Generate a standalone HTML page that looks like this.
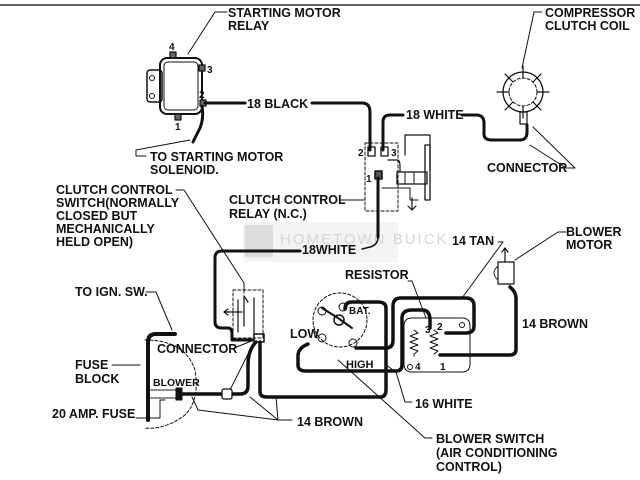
<!DOCTYPE html>
<html><head><meta charset="utf-8"><style>
html,body{margin:0;padding:0;background:#fff;}
svg{display:block}
text{font-family:"Liberation Sans",sans-serif;font-weight:bold;font-size:12.5px;fill:#111;}
</style></head><body>
<svg width="640" height="480" viewBox="0 0 640 480" xmlns="http://www.w3.org/2000/svg">
<rect width="640" height="480" fill="#fff"/>
<line x1="0" y1="5" x2="640" y2="5" stroke="#333" stroke-width="1.5"/>

<!-- watermark -->
<g opacity="0.35">
<rect x="243" y="222" width="155" height="40" fill="#ddd"/>
<rect x="245" y="225" width="28" height="32" fill="#999"/>
<text x="280" y="244" style="font-size:15px;font-weight:normal;fill:#888;letter-spacing:2px">HOMETOWN BUICK</text>
</g>

<g fill="none" stroke="#111" stroke-linecap="round" stroke-linejoin="round">
<!-- starting motor relay -->
<rect x="147" y="70" width="15" height="32" rx="3" stroke-width="1.5"/>
<circle cx="152" cy="78" r="2.5" stroke-width="1"/>
<circle cx="152" cy="96" r="2.5" stroke-width="1"/>
<rect x="160" y="58" width="42" height="56" rx="7" stroke-width="2"/>
<rect x="164" y="62" width="34" height="48" rx="4" stroke-width="1"/>
<rect x="170" y="52" width="6" height="6" stroke-width="1.2" fill="#666"/>
<rect x="199" y="65" width="6" height="6" stroke-width="1.2" fill="#666"/>
<rect x="200" y="100" width="6" height="6" stroke-width="1.2" fill="#666"/>
<rect x="175" y="114" width="6" height="6" stroke-width="1.2" fill="#666"/>
<polyline points="227,12 215,12 188,54" stroke-width="1"/>
<path d="M202 106 Q204 118 200 128 L193 142" stroke-width="3"/>
<polyline points="146,156 136,156 136,150 190,140" stroke-width="1"/>
<line x1="205" y1="103" x2="245" y2="103" stroke-width="3"/>
<path d="M312 103 H362 Q370 103 370 112 V150" stroke-width="3"/>
<path d="M403 115 H390 Q383 115 383 122 V150" stroke-width="3"/>
<path d="M462 115 H476 Q484 115 484 123 V134 Q484 140 492 140 H520 Q527 140 527 132 V125" stroke-width="3"/>
<!-- clutch relay -->
<rect x="365" y="143" width="33" height="68" stroke-width="1" stroke-dasharray="3,2"/>
<rect x="368" y="147" width="7" height="9" stroke-width="1.3"/>
<rect x="381" y="147" width="7" height="9" stroke-width="1.3"/>
<rect x="375" y="171" width="7" height="8" stroke-width="1.5" fill="#555"/>
<path d="M388 160 H397 Q400 160 400 166 V172" stroke-width="1.2"/>
<path d="M405 155 V135 H430 V170" stroke-width="1.2"/>
<rect x="397" y="172" width="30" height="12" stroke-width="1.3"/>
<line x1="405" y1="172" x2="405" y2="184" stroke-width="1"/>
<line x1="414" y1="172" x2="414" y2="184" stroke-width="1"/>
<rect x="425" y="145" width="5" height="55" stroke-width="1.3"/>
<path d="M382 188 H410 V200 H418" stroke-width="1"/>
<path d="M412 198 V210 M408 206 L412 210 L416 206" stroke-width="1.2"/>
<polyline points="340,200 365,200" stroke-width="1"/>
<path d="M378 178 V237" stroke-width="3"/>
<path d="M378 237 Q378 245 370 247 L362 249" stroke-width="1.5"/>
<path d="M300 251 H222 Q215 251 215 258 V322 Q215 328 222 328 H228 Q232 328 232 334 V340 H252" stroke-width="3"/>
<!-- clutch control switch -->
<rect x="233" y="290" width="30" height="48" stroke-width="1" stroke-dasharray="3,2"/>
<path d="M238 300 V332 M244 296 V326 M244 296 L248 302 M254 298 V336" stroke-width="1.2"/>
<path d="M242 312 H224 M228 309 L224 312 L228 315" stroke-width="1.2"/>
<polyline points="176,190 184,190 244,283 244,293" stroke-width="1"/>
<rect x="254" y="334" width="10" height="8" stroke-width="1.5"/>
<path d="M260 342 V392 Q260 397 267 397 H380 Q386 397 386 390 V308 Q386 302 378 302 H352 Q345 302 345 309" stroke-width="3.5"/>
<path d="M256 342 Q248 350 248 365 V386 Q248 394 240 394 H180" stroke-width="3.5"/>
<line x1="234" y1="348" x2="254" y2="340" stroke-width="1"/>
<line x1="254" y1="342" x2="230" y2="390" stroke-width="1"/>
<rect x="222" y="389" width="10" height="10" rx="2" stroke-width="1.3" fill="#fff"/>
<!-- fuse block -->
<path d="M148 420 V342 Q148 334 156 334 H175" stroke-width="4"/>
<polyline points="146,292 156,292 172,330" stroke-width="1"/>
<polyline points="112,365 140,365" stroke-width="1"/>
<path d="M145 340 Q185 340 195 370 Q200 400 185 415 Q165 430 145 428" stroke-width="1" stroke-dasharray="3,2"/>
<path d="M150 390 H178 M150 398 H178" stroke-width="1" stroke-dasharray="3,1"/>
<rect x="176" y="388" width="6" height="12" fill="#111" stroke-width="1"/>
<polyline points="136,418 160,418 160,400 165,400" stroke-width="1"/>
<polyline points="192,397 198,410 278,420 292,420" stroke-width="1"/>
<line x1="250" y1="397" x2="278" y2="420" stroke-width="1"/>
<line x1="276" y1="397" x2="278" y2="420" stroke-width="1"/>
<!-- blower switch -->
<circle cx="340" cy="320" r="27" stroke-width="1" stroke-dasharray="3,2"/>
<circle cx="339" cy="320" r="5" stroke-width="1.5"/>
<path d="M322 308 L338 318 L352 328" stroke-width="2"/>
<circle cx="322" cy="311" r="4" stroke-width="1"/>
<circle cx="343" cy="307" r="4" stroke-width="1"/>
<circle cx="322" cy="338" r="4" stroke-width="1"/>
<circle cx="353" cy="343" r="4" stroke-width="1"/>
<path d="M308 344 Q298 348 298 356 V365 Q298 371 306 371 H396 Q402 371 402 365 V318 Q402 310 412 310 H422 Q430 310 430 320 V328" stroke-width="3.5"/>
<path d="M356 348 H386 Q393 348 393 340 V306 Q393 298 401 298 H466 Q474 298 474 306 V326 Q474 333 466 333 H446" stroke-width="3.5"/>
<!-- resistor -->
<path d="M412 318 H462 Q470 318 470 326 V364 Q470 372 462 372 H412 Q404 372 404 364 V326 Q404 318 412 318 Z" stroke-width="1"/>
<path d="M414 330 l4 3 -8 3 8 3 -8 3 8 3 -8 3 8 3 -4 3 V356" stroke-width="1"/>
<path d="M434 330 l4 3 -8 3 8 3 -8 3 8 3 -8 3 8 3 -4 3" stroke-width="1"/>
<circle cx="462" cy="325" r="2.5" stroke-width="1"/>
<circle cx="410" cy="367" r="2.5" stroke-width="1"/>
<path d="M440 355 H510 Q516 355 516 349 V298 Q516 292 510 287" stroke-width="3.5"/>
<!-- blower motor -->
<path d="M498 262 H514 V284 H498 Z" stroke-width="1.2"/>
<path d="M498 266 Q490 273 498 280" stroke-width="1" stroke-dasharray="2,1"/>
<path d="M505 262 V248 M502 252 L505 248 L508 252" stroke-width="1.2"/>
<polyline points="566,232 558,232 515,260" stroke-width="1"/>
<polyline points="408,281 412,281 426,318" stroke-width="1"/>
<polyline points="498,242 503,242 462,298" stroke-width="1"/>
<polyline points="412,402 405,402 396,372 386,365" stroke-width="1"/>
<polyline points="432,438 425,438 338,360" stroke-width="1"/>
<!-- compressor clutch coil -->
<circle cx="523" cy="92" r="20" stroke-width="1.3"/>
<circle cx="523" cy="92" r="14" stroke-width="1" stroke-dasharray="3,2"/>
<g stroke-width="1.2">
<line x1="523" y1="66" x2="523" y2="78"/><line x1="523" y1="106" x2="523" y2="118"/>
<line x1="497" y1="92" x2="509" y2="92"/><line x1="537" y1="92" x2="549" y2="92"/>
<line x1="505" y1="74" x2="513" y2="82"/><line x1="533" y1="102" x2="541" y2="110"/>
<line x1="541" y1="74" x2="533" y2="82"/><line x1="505" y1="110" x2="513" y2="102"/>
</g>
<rect x="520" y="112" width="7" height="12" stroke-width="1.2"/>
<polyline points="542,12 534,12 522,68" stroke-width="1"/>
<polyline points="566,168 575,168 533,127" stroke-width="1"/>
<line x1="566" y1="168" x2="530" y2="145" stroke-width="1"/>
</g>

<text x="228" y="17">STARTING MOTOR</text>
<text x="228" y="30">RELAY</text>
<text x="169" y="50" style="font-size:10px">4</text>
<text x="207" y="73" style="font-size:10px">3</text>
<text x="199" y="98" style="font-size:10px">2</text>
<text x="175" y="130" style="font-size:10px">1</text>
<text x="150" y="161">TO STARTING MOTOR</text>
<text x="150" y="174">SOLENOID.</text>
<text x="247" y="108">18 BLACK</text>
<text x="406" y="119">18 WHITE</text>
<text x="545" y="17">COMPRESSOR</text>
<text x="545" y="30">CLUTCH COIL</text>
<text x="487" y="172">CONNECTOR</text>
<text x="358" y="156" style="font-size:10px">2</text>
<text x="391" y="156" style="font-size:10px">3</text>
<text x="366" y="182" style="font-size:10px">1</text>
<text x="229" y="204">CLUTCH CONTROL</text>
<text x="229" y="218">RELAY (N.C.)</text>
<text x="56" y="194">CLUTCH CONTROL</text>
<text x="56" y="207">SWITCH(NORMALLY</text>
<text x="56" y="220">CLOSED BUT</text>
<text x="56" y="233">MECHANICALLY</text>
<text x="56" y="246">HELD OPEN)</text>
<text x="302" y="254">18WHITE</text>
<text x="452" y="245">14 TAN</text>
<text x="566" y="236">BLOWER</text>
<text x="566" y="249">MOTOR</text>
<text x="345" y="279">RESISTOR</text>
<text x="522" y="328">14 BROWN</text>
<text x="75" y="296">TO IGN. SW.</text>
<text x="290" y="338">LOW</text>
<text x="349" y="314" style="font-size:10px">BAT.</text>
<text x="346" y="368" style="font-size:11px">HIGH</text>
<text x="157" y="353">CONNECTOR</text>
<text x="75" y="369">FUSE</text>
<text x="75" y="383">BLOCK</text>
<text x="153" y="386" style="font-size:10.5px">BLOWER</text>
<text x="52" y="418">20 AMP. FUSE</text>
<text x="297" y="426">14 BROWN</text>
<text x="415" y="408">16 WHITE</text>
<text x="425" y="333" style="font-size:10px">3</text>
<text x="437" y="330" style="font-size:10px">2</text>
<text x="415" y="370" style="font-size:10px">4</text>
<text x="440" y="370" style="font-size:10px">1</text>
<text x="436" y="443">BLOWER SWITCH</text>
<text x="436" y="457">(AIR CONDITIONING</text>
<text x="436" y="471">CONTROL)</text>
</svg>
</body></html>
